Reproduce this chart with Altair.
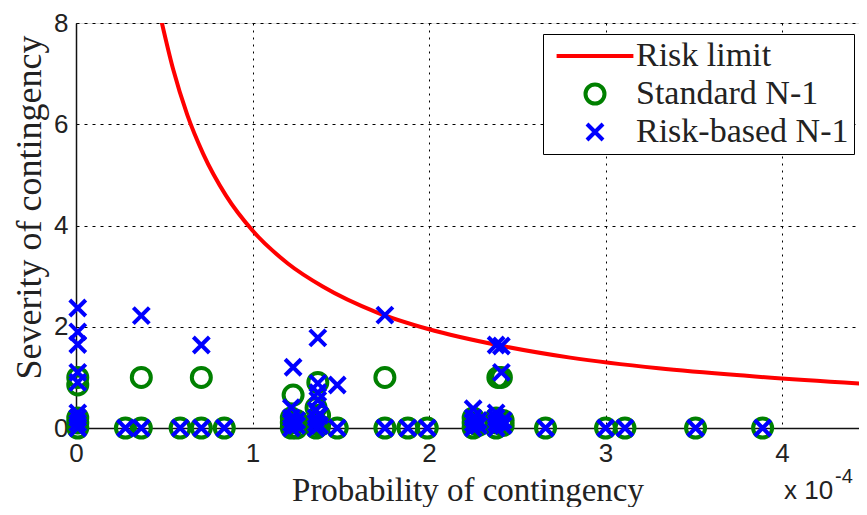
import altair as alt
import pandas as pd

# Risk limit curve (probability in 1e-4 units, severity)
curve_x = [0.48, 0.55, 0.63, 0.72, 0.85, 1.0, 1.2, 1.4, 1.7, 2.0, 2.4, 2.8, 3.3, 3.8, 4.47]
curve_y = [8.1, 7.09, 6.19, 5.42, 4.59, 3.9, 3.25, 2.79, 2.29, 1.95, 1.63, 1.39, 1.18, 1.03, 0.87]

# Standard N-1 contingencies
std_x = [0.01, 0.01, 0.01, 0.01, 0.01,
         0.28, 0.37, 0.37, 0.59, 0.71, 0.71, 0.84,
         1.22, 1.22, 1.22, 1.23, 1.25, 1.25,
         1.36, 1.36, 1.36, 1.37, 1.38, 1.38,
         1.48, 1.75, 1.75, 1.88, 1.99,
         2.25, 2.25, 2.25, 2.28,
         2.38, 2.38, 2.38, 2.39, 2.42, 2.42, 2.41,
         2.66, 3.0, 3.11, 3.51, 3.89]
std_y = [0.0, 0.1, 0.2, 0.85, 1.0,
         0.0, 0.0, 1.0, 0.0, 0.0, 1.0, 0.0,
         0.0, 0.1, 0.2, 0.65, 0.0, 0.15,
         0.0, 0.1, 0.4, 0.9, 0.05, 0.25,
         0.0, 0.0, 1.0, 0.0, 0.0,
         0.0, 0.1, 0.2, 0.05,
         0.0, 0.1, 0.2, 1.0, 0.05, 0.15, 1.0,
         0.0, 0.0, 0.0, 0.0, 0.0]

# Risk-based N-1 contingencies
rb_x = [0.01, 0.01, 0.01, 0.01, 0.01, 0.01, 0.01, 0.01, 0.01,
        0.28, 0.37, 0.37, 0.59, 0.71, 0.71, 0.84,
        1.22, 1.22, 1.22, 1.22, 1.23, 1.25, 1.25,
        1.36, 1.36, 1.36, 1.36, 1.37, 1.37, 1.37, 1.37, 1.38, 1.38,
        1.48, 1.48, 1.75, 1.75, 1.88, 1.99,
        2.25, 2.25, 2.25, 2.25, 2.28, 2.28,
        2.38, 2.38, 2.38, 2.38, 2.38, 2.42, 2.42, 2.41, 2.41,
        2.66, 3.0, 3.11, 3.51, 3.89]
rb_y = [0.0, 0.1, 0.2, 0.3, 0.9, 1.1, 1.65, 1.9, 2.37,
        0.0, 0.0, 2.22, 0.0, 0.0, 1.64, 0.0,
        0.0, 0.1, 0.2, 0.4, 1.2, 0.05, 0.15,
        0.0, 0.1, 0.2, 0.35, 0.55, 0.7, 0.88, 1.78, 0.05, 0.25,
        0.0, 0.85, 0.0, 2.23, 0.0, 0.0,
        0.0, 0.1, 0.2, 0.38, 0.05, 0.15,
        0.0, 0.1, 0.2, 0.3, 1.64, 0.05, 0.15, 1.1, 1.62,
        0.0, 0.0, 0.0, 0.0, 0.0]

series_names = ["Risk limit", "Standard N-1", "Risk-based N-1"]
series_colors = ["#ff0000", "#008000", "#0000ff"]
series_shapes = ["M-4.8,0L4.8,0", "circle", "M-1,-1L1,1M1,-1L-1,1"]
series_sizes = [256, 361, 256]

curve_df = pd.DataFrame({"p": curve_x, "s": curve_y})
pts_df = pd.DataFrame({
    "p": std_x + rb_x,
    "s": std_y + rb_y,
    "series": ["Standard N-1"] * len(std_x) + ["Risk-based N-1"] * len(rb_x),
})

xscale = alt.Scale(domain=[0, 4.436], nice=False, zero=False)
yscale = alt.Scale(domain=[0, 8], nice=False)

xaxis = alt.Axis(
    title="Probability of contingency", values=[0, 1, 2, 3, 4], format="d",
    grid=True, gridDash=[2, 5], gridColor="#000000", gridOpacity=1, gridWidth=1,
    ticks=False, domainColor="#111111", domainWidth=1.5, labelFlush=False,
    labelFont="Liberation Sans", labelFontSize=26, labelColor="#222222", labelPadding=12,
    titleFont="Liberation Serif", titleFontSize=33, titleFontWeight="normal", titleColor="#222222",
    titleBaseline="alphabetic", titleY=72,
)
yaxis = alt.Axis(
    title="Severity of contingency", values=[0, 2, 4, 6, 8],
    grid=True, gridDash=[3, 5], gridColor="#000000", gridOpacity=1, gridWidth=1,
    ticks=False, domainColor="#111111", domainWidth=1.5,
    labelFont="Liberation Sans", labelFontSize=26, labelColor="#222222", labelPadding=8,
    titleFont="Liberation Serif", titleFontSize=36, titleFontWeight="normal", titleColor="#222222",
    titleX=-47, titleY=184, titleBaseline="middle", titleAngle=270,
)

line = alt.Chart(curve_df).mark_line(color="#ff0000", strokeWidth=4, clip=True, interpolate="monotone").encode(
    x=alt.X("p:Q", scale=xscale, axis=xaxis),
    y=alt.Y("s:Q", scale=yscale, axis=yaxis),
)

pts = alt.Chart(pts_df).mark_point(filled=False, strokeWidth=4, opacity=1).encode(
    x=alt.X("p:Q", scale=xscale),
    y=alt.Y("s:Q", scale=yscale),
    color=alt.Color("series:N", scale=alt.Scale(domain=series_names, range=series_colors),
                    legend=alt.Legend(
                        title=None, orient="none", legendX=467, legendY=11,
                        strokeColor="#000000", fillColor="#ffffff", padding=5,
                        labelFont="Liberation Serif", labelFontSize=34, labelColor="#222222",
                        labelLimit=500, labelOffset=24, symbolOffset=30, rowPadding=3,
                        symbolStrokeWidth=4, cornerRadius=0,
                    )),
    shape=alt.Shape("series:N", scale=alt.Scale(domain=series_names, range=series_shapes)),
    size=alt.Size("series:N", scale=alt.Scale(type="ordinal", domain=series_names, range=series_sizes)),
)

sci_df = pd.DataFrame({"t": ["x 10"]})
sci = alt.Chart(sci_df).mark_text(font="Liberation Sans", fontSize=26, color="#222222", align="left", baseline="alphabetic").encode(
    text="t:N", x=alt.value(708), y=alt.value(476))
exp_df = pd.DataFrame({"t": ["-4"]})
expo = alt.Chart(exp_df).mark_text(font="Liberation Sans", fontSize=20, color="#222222", align="left", baseline="alphabetic").encode(
    text="t:N", x=alt.value(759), y=alt.value(460))

chart = alt.layer(line, pts, sci, expo).properties(
    width=783, height=405,
    padding={"left": 68, "top": 15, "right": 0, "bottom": 79},
    autosize=alt.AutoSizeParams(type="none"),
).configure_view(stroke=None).configure(background="#ffffff")

chart.save("out.html", embed_options={"renderer": "svg", "actions": False})
